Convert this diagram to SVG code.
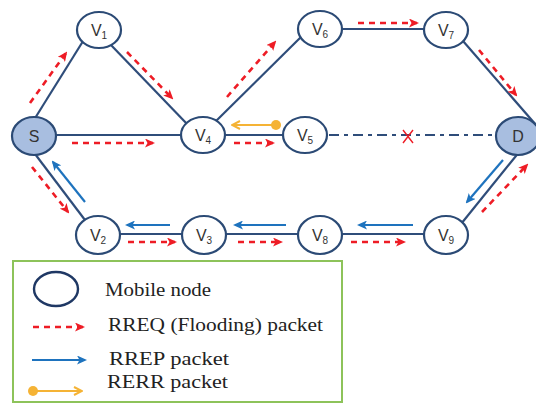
<svg xmlns="http://www.w3.org/2000/svg" width="536" height="405" viewBox="0 0 536 405">
  <style>
    .link { stroke: #2F4D7A; stroke-width: 2.2; fill: none; }
    .broken { stroke: #2F4D7A; stroke-width: 2; fill: none; stroke-dasharray: 10 5 4 5; }
    .node { fill: #FFFFFF; stroke: #2B4A75; stroke-width: 2.2; }
    .end { fill: #A8BEE0; stroke: #2B4A75; stroke-width: 2.2; }
    .lbl { font-family: "Liberation Sans", Arial, sans-serif; font-size: 16px; fill: #333333; }
    .sub { font-size: 10px; }
    .rreq { stroke: #EE1C25; stroke-width: 2.6; stroke-dasharray: 6 5; fill: none; marker-end: url(#redHead); }
    .rrep { stroke: #1E73BE; stroke-width: 2.2; fill: none; marker-end: url(#blueHead); }
    .rerr { stroke: #F5B335; stroke-width: 2.2; fill: none; marker-end: url(#orangeHead); }
    .legendText { font-family: "Liberation Serif", "Times New Roman", serif; font-size: 19px; fill: #222222; }
  </style>
  <defs>
    <marker id="redHead" viewBox="0 0 10 9" refX="8" refY="4.5" markerWidth="10" markerHeight="9" markerUnits="userSpaceOnUse" orient="auto">
      <path d="M0,0 L10,4.5 L0,9 L2.5,4.5 Z" fill="#EE1C25"/>
    </marker>
    <marker id="blueHead" viewBox="0 0 10 9" refX="8" refY="4.5" markerWidth="10" markerHeight="9" markerUnits="userSpaceOnUse" orient="auto">
      <path d="M0,0 L10,4.5 L0,9 L2.5,4.5 Z" fill="#1E73BE"/>
    </marker>
    <marker id="orangeHead" viewBox="0 0 10 10" refX="9" refY="5" markerWidth="10" markerHeight="10" markerUnits="userSpaceOnUse" orient="auto">
      <path d="M1,1 L9,5 L1,9" fill="none" stroke="#F5B335" stroke-width="2"/>
    </marker>
  </defs>

  <rect width="536" height="405" fill="#FFFFFF"/>

  <!-- links and packet flows -->
  <g id="connectors">
    <line class="link" x1="32" y1="123" x2="85" y2="38"/>
    <line class="link" x1="110" y1="44" x2="188" y2="125"/>
    <line class="link" x1="34" y1="135" x2="203" y2="135"/>
    <line class="link" x1="213" y1="124" x2="303" y2="35"/>
    <line class="link" x1="320" y1="29" x2="446" y2="29"/>
    <line class="link" x1="463" y1="41" x2="536" y2="125"/>
    <line class="link" x1="203" y1="135" x2="305" y2="135"/>
    <line class="broken" x1="305" y1="135" x2="518" y2="135"/>
    <line class="link" x1="32" y1="150" x2="88" y2="224"/>
    <line class="link" x1="98" y1="234" x2="446" y2="234"/>
    <line class="link" x1="461" y1="224" x2="520" y2="151"/>

    <!-- broken link mark -->
    <path d="M403,130 L413,143 M413,130 L403,143" stroke="#EE1C25" stroke-width="1.4" fill="none"/>

    <!-- RREQ flooding -->
    <line class="rreq" x1="30" y1="103" x2="66" y2="53"/>
    <line class="rreq" x1="127" y1="52" x2="172" y2="98"/>
    <line class="rreq" x1="72" y1="143" x2="153" y2="143"/>
    <line class="rreq" x1="234" y1="143" x2="273" y2="143"/>
    <line class="rreq" x1="227" y1="97" x2="275" y2="42"/>
    <line class="rreq" x1="358" y1="23" x2="417" y2="23"/>
    <line class="rreq" x1="479" y1="50" x2="516" y2="95"/>
    <line class="rreq" x1="32" y1="167" x2="68" y2="212"/>
    <line class="rreq" x1="128" y1="242" x2="175" y2="242"/>
    <line class="rreq" x1="238" y1="242" x2="281" y2="242"/>
    <line class="rreq" x1="351" y1="242" x2="404" y2="242"/>
    <line class="rreq" x1="482" y1="212" x2="527" y2="165"/>

    <!-- RREP reply -->
    <line class="rrep" x1="503" y1="160" x2="467" y2="202"/>
    <line class="rrep" x1="413" y1="225" x2="359" y2="225"/>
    <line class="rrep" x1="286" y1="225" x2="235" y2="225"/>
    <line class="rrep" x1="170" y1="225" x2="127" y2="225"/>
    <line class="rrep" x1="85" y1="202" x2="53" y2="162"/>

    <!-- RERR -->
    <line class="rerr" x1="275" y1="125" x2="232" y2="125"/>
    <circle cx="276" cy="125" r="5" fill="#F5B335"/>
  </g>

  <!-- nodes -->
  <g id="S"><ellipse class="end" cx="34" cy="136" rx="22" ry="19"/><text class="lbl" x="34" y="142" text-anchor="middle">S</text></g>
  <g id="V1"><ellipse class="node" cx="99" cy="30" rx="22" ry="18"/><text class="lbl" x="99" y="36" text-anchor="middle">V<tspan class="sub" dy="3">1</tspan></text></g>
  <g id="V4"><ellipse class="node" cx="203" cy="135" rx="22" ry="18"/><text class="lbl" x="203" y="141" text-anchor="middle">V<tspan class="sub" dy="3">4</tspan></text></g>
  <g id="V5"><ellipse class="node" cx="305" cy="135" rx="22" ry="18"/><text class="lbl" x="305" y="141" text-anchor="middle">V<tspan class="sub" dy="3">5</tspan></text></g>
  <g id="V6"><ellipse class="node" cx="320" cy="29" rx="22" ry="18"/><text class="lbl" x="320" y="35" text-anchor="middle">V<tspan class="sub" dy="3">6</tspan></text></g>
  <g id="V7"><ellipse class="node" cx="446" cy="30" rx="22" ry="18"/><text class="lbl" x="446" y="36" text-anchor="middle">V<tspan class="sub" dy="3">7</tspan></text></g>
  <g id="D"><ellipse class="end" cx="518" cy="136" rx="22" ry="19"/><text class="lbl" x="518" y="142" text-anchor="middle">D</text></g>
  <g id="V2"><ellipse class="node" cx="98" cy="235" rx="22" ry="19"/><text class="lbl" x="98" y="241" text-anchor="middle">V<tspan class="sub" dy="3">2</tspan></text></g>
  <g id="V3"><ellipse class="node" cx="204" cy="235" rx="22" ry="19"/><text class="lbl" x="204" y="241" text-anchor="middle">V<tspan class="sub" dy="3">3</tspan></text></g>
  <g id="V8"><ellipse class="node" cx="320" cy="235" rx="22" ry="19"/><text class="lbl" x="320" y="241" text-anchor="middle">V<tspan class="sub" dy="3">8</tspan></text></g>
  <g id="V9"><ellipse class="node" cx="446" cy="235" rx="22" ry="19"/><text class="lbl" x="446" y="241" text-anchor="middle">V<tspan class="sub" dy="3">9</tspan></text></g>

  <!-- legend -->
  <g id="legend">
    <rect x="13" y="261" width="329" height="141" fill="#FFFFFF" stroke="#8DC35A" stroke-width="2"/>
    <ellipse cx="56" cy="289" rx="22" ry="17" fill="none" stroke="#1F3864" stroke-width="2.4"/>
    <text class="legendText" x="105" y="296" textLength="106" lengthAdjust="spacingAndGlyphs">Mobile node</text>
    <line class="rreq" x1="33" y1="327" x2="83" y2="327"/>
    <text class="legendText" x="108" y="331" textLength="215" lengthAdjust="spacingAndGlyphs">RREQ (Flooding) packet</text>
    <line class="rrep" x1="32" y1="360" x2="85" y2="360"/>
    <text class="legendText" x="109" y="365" textLength="120" lengthAdjust="spacingAndGlyphs">RREP packet</text>
    <line class="rerr" x1="33" y1="391" x2="82" y2="391"/>
    <circle cx="33" cy="391" r="5" fill="#F5B335"/>
    <text class="legendText" x="107" y="388" textLength="121" lengthAdjust="spacingAndGlyphs">RERR packet</text>
  </g>
</svg>
